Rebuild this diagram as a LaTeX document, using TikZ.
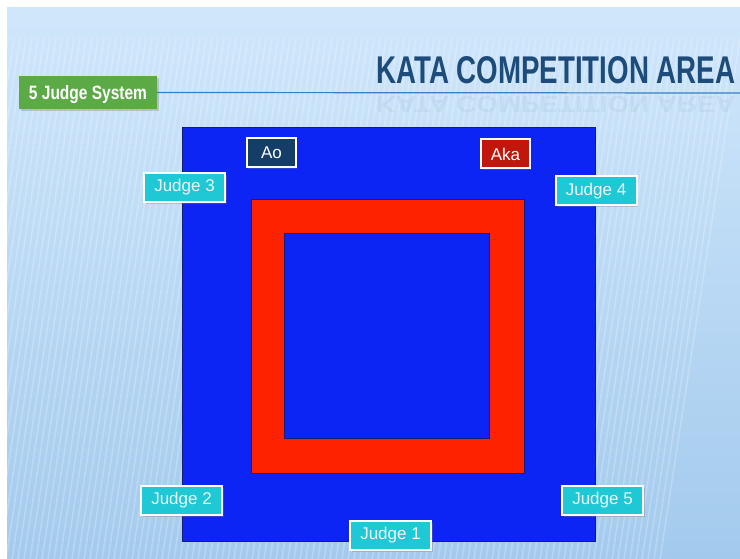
\documentclass[tikz,border=0pt]{standalone}
\usepackage{fontspec}
\setmainfont{Liberation Sans}
\usetikzlibrary{shadows}
\definecolor{bgtop}{RGB}{208,231,251}
\definecolor{bgbot}{RGB}{163,202,237}
\definecolor{courtblue}{RGB}{12,36,244}
\definecolor{courtedge}{RGB}{20,30,120}
\definecolor{courtred}{RGB}{255,34,0}
\definecolor{judgecyan}{RGB}{30,200,212}
\definecolor{aoblue}{RGB}{20,62,104}
\definecolor{akared}{RGB}{192,22,12}
\definecolor{sysgreen}{RGB}{92,170,70}
\definecolor{titleblue}{RGB}{30,76,122}
\definecolor{rulecol}{RGB}{58,128,188}
\tikzset{
  judgebox/.style={fill=judgecyan, draw=white, line width=2pt, text=white!92!cyan,
    minimum width=81pt, minimum height=29pt, inner sep=0pt,
    font=\fontsize{17}{18}\selectfont,
    drop shadow={opacity=0.35, shadow xshift=1.5pt, shadow yshift=-2pt}},
  colorbox/.style={draw=white, line width=2pt, text=white,
    minimum width=49pt, minimum height=29pt, inner sep=0pt,
    font=\fontsize{17}{18}\selectfont,
    drop shadow={opacity=0.3, shadow xshift=1pt, shadow yshift=-1.5pt}},
  courtsq/.style={draw=courtedge, line width=0.8pt}
}
\begin{document}
\begin{tikzpicture}[x=1pt,y=-1pt]
\useasboundingbox (0,0) rectangle (740,559);
\fill[white] (0,0) rectangle (740,559);
% background
\shade[top color=bgtop, bottom color=bgbot] (7,8) rectangle (740,559);
\begin{scope}
  \clip (7,38) rectangle (740,559);
  \foreach \i in {0,...,130} {
    \draw[white, opacity=0.22, line width=1.6pt] ({\i*6-120},559) -- ({\i*6-40},38);
  }
\end{scope}
% title
\node[anchor=base west, inner sep=0pt, text=titleblue] (title) at (376,84)
  {\resizebox{359pt}{27pt}{\bfseries KATA COMPETITION AREA}};
\node[anchor=north west, inner sep=0pt, text=titleblue, opacity=0.06] (titlerefl) at (376,96)
  {\scalebox{1}[-0.6]{\resizebox{359pt}{27pt}{\bfseries KATA COMPETITION AREA}}};
% green label and rule
\coordinate (ruleend) at (740,93);
\node[fill=sysgreen, text=white, minimum width=138pt, minimum height=33pt, inner sep=0pt,
  text height=14pt, text depth=0pt,
  drop shadow={opacity=0.35, shadow xshift=1.5pt, shadow yshift=-2pt}] (sys) at (88,92.5)
  {\resizebox{118pt}{14pt}{\bfseries 5 Judge System}};
\draw[rulecol, line width=1.2pt] (sys.east) -- (ruleend);
% court
\filldraw[courtsq, fill=courtblue] (182,127) rectangle (595,541);
\filldraw[courtsq, fill=courtred] (251,199) rectangle (524,473);
\filldraw[courtsq, fill=courtblue] (284,233) rectangle (489,438);
% Ao / Aka
\node[colorbox, fill=aoblue] (ao) at (271.5,153) {Ao};
\node[colorbox, fill=akared] (aka) at (505.5,154) {Aka};
% judges
\node[judgebox] (j3) at (184.5,187.5) {Judge 3};
\node[judgebox] (j4) at (596,191) {Judge 4};
\node[judgebox] (j2) at (181.5,500) {Judge 2};
\node[judgebox] (j1) at (390.5,535.5) {Judge 1};
\node[judgebox] (j5) at (602.5,500.5) {Judge 5};
\end{tikzpicture}
\end{document}
